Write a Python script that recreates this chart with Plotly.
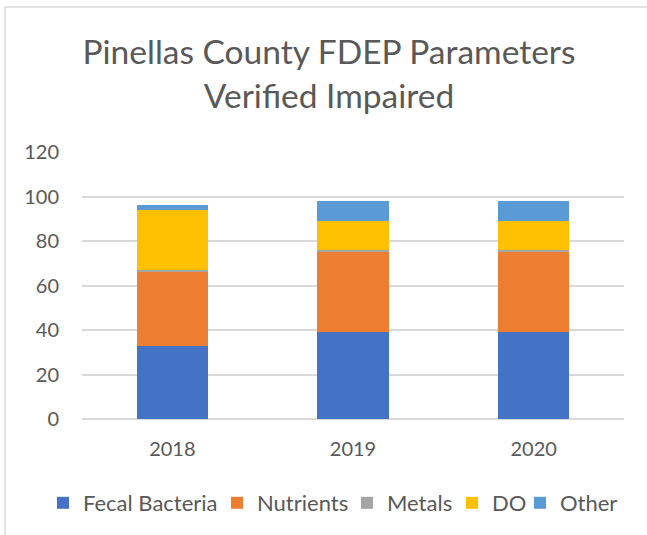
import plotly.graph_objects as go

years = ["2018", "2019", "2020"]
fecal_bacteria = [33, 39, 39]
nutrients = [33, 36, 36]
metals = [1, 1, 1]
dissolved_oxygen = [27, 13, 13]
other = [2, 9, 9]

series_names = ["Fecal Bacteria", "Nutrients", "Metals", "DO", "Other"]
series_values = [fecal_bacteria, nutrients, metals, dissolved_oxygen, other]
series_colors = ["#4472c4", "#ed7d31", "#a5a5a5", "#ffc000", "#5b9bd5"]
# pixel x of each legend swatch's left edge in the reference
legend_swatch_px = [58, 232, 362, 467, 535]

FONT = "Lato"
GRAY = "#595959"

W, H = 647, 535
L, R, T, B = 82, 23, 152, 116
pw = W - L - R
ph = H - T - B

fig = go.Figure()
legend_layouts = {}
for i, (name, vals, color) in enumerate(zip(series_names, series_values, series_colors)):
    key = "legend" if i == 0 else f"legend{i + 1}"
    fig.add_trace(go.Bar(x=years, y=vals, name=name, legend=key,
                         marker=dict(color=color, line=dict(width=0))))
    legend_layouts[key] = dict(
        orientation="h",
        x=(legend_swatch_px[i] - 15 - L) / pw, xanchor="left",
        y=-(503 - (H - B)) / ph, yanchor="middle",
        font=dict(family=FONT, size=22, color=GRAY),
        bgcolor="rgba(0,0,0,0)", borderwidth=0,
    )

fig.update_layout(
    width=W, height=H,
    barmode="stack",
    bargap=0.604,
    paper_bgcolor="white",
    plot_bgcolor="white",
    margin=dict(l=L, r=R, t=T, b=B, autoexpand=False),
    font=dict(family=FONT, color=GRAY, size=20),
    title=dict(text="Pinellas County FDEP Parameters<br>Verified Impaired",
               x=329 / W, xanchor="center", y=1 - 64 / H, yanchor="middle",
               font=dict(family=FONT, size=33.5, color=GRAY)),
    xaxis=dict(showgrid=False, ticks="", showline=False,
               tickfont=dict(size=20, color=GRAY), ticklabelstandoff=16),
    yaxis=dict(range=[0, 120], dtick=20, showgrid=True, gridcolor="#d9d9d9",
               gridwidth=1.5, zeroline=True, zerolinecolor="#d9d9d9",
               zerolinewidth=1.5, ticks="", showline=False,
               tickfont=dict(size=20, color=GRAY), ticklabelstandoff=22),
    showlegend=True,
    **legend_layouts,
)

# chart area border (left and top edges visible in the frame)
fig.add_shape(type="line", xref="paper", yref="paper",
              x0=(5 - L) / pw, x1=(W + 10 - L) / pw,
              y0=(H - 7 - B) / ph, y1=(H - 7 - B) / ph,
              line=dict(color="#d9d9d9", width=1.5))
fig.add_shape(type="line", xref="paper", yref="paper",
              x0=(5 - L) / pw, x1=(5 - L) / pw,
              y0=(H - 7 - B) / ph, y1=-(B + 10) / ph,
              line=dict(color="#d9d9d9", width=1.5))

fig.write_html("out.html",
               config={"displayModeBar": False},
               post_script="document.body.style.margin='0';")
